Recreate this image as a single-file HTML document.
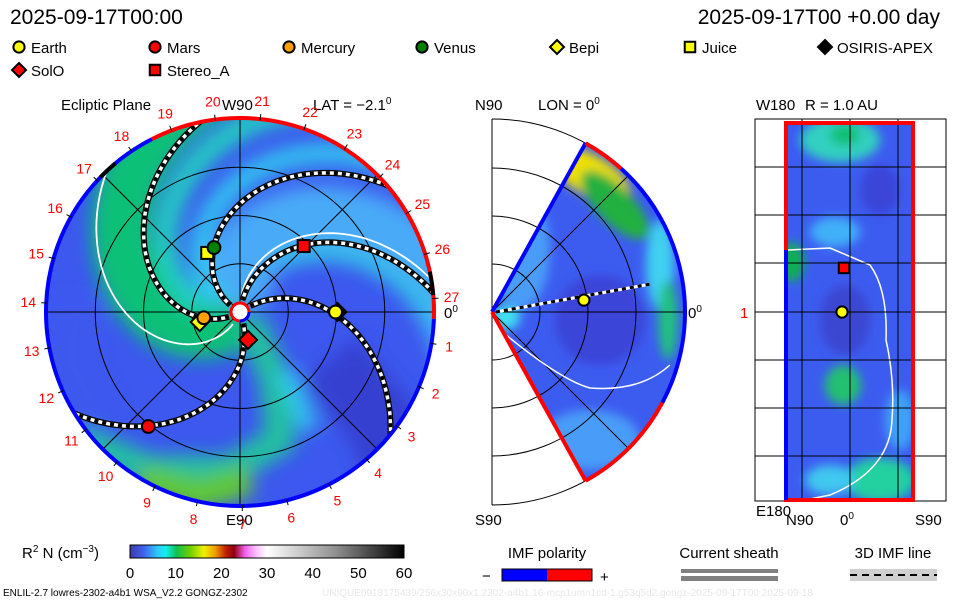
<!DOCTYPE html>
<html><head><meta charset="utf-8">
<style>
html,body{margin:0;padding:0;background:#fff;}
svg{display:block;font-family:"Liberation Sans",sans-serif;}
</style></head>
<body>
<svg id="c" width="960" height="600" viewBox="0 0 960 600" xmlns="http://www.w3.org/2000/svg">
<defs>
<filter id="bl" x="-20%" y="-20%" width="140%" height="140%"><feGaussianBlur stdDeviation="9"/></filter>
<filter id="bl2" x="-20%" y="-20%" width="140%" height="140%"><feGaussianBlur stdDeviation="5"/></filter>
<clipPath id="mainClip"><circle cx="240" cy="312" r="193"/></clipPath>
<clipPath id="midClip"><path id="wedgePath" d=""/></clipPath>
<clipPath id="rightClip"><rect x="786" y="122" width="127" height="379"/></clipPath>
<linearGradient id="cbar" x1="0" x2="1" y1="0" y2="0">
<stop offset="0" stop-color="#3c3ca8"/><stop offset="0.05" stop-color="#4060f0"/><stop offset="0.1" stop-color="#30c8f8"/>
<stop offset="0.13" stop-color="#10f0f0"/><stop offset="0.17" stop-color="#10c050"/><stop offset="0.22" stop-color="#70d000"/>
<stop offset="0.27" stop-color="#f0f000"/><stop offset="0.31" stop-color="#f0a000"/><stop offset="0.35" stop-color="#c02000"/>
<stop offset="0.38" stop-color="#900010"/><stop offset="0.42" stop-color="#f060f0"/><stop offset="0.46" stop-color="#ffc0ff"/>
<stop offset="0.5" stop-color="#ffffff"/><stop offset="0.75" stop-color="#909090"/><stop offset="1" stop-color="#000000"/>
</linearGradient>
</defs>

<text x="10" y="24" font-size="21">2025-09-17T00:00</text>
<text x="940" y="24" font-size="21" text-anchor="end">2025-09-17T00 +0.00 day</text>

<g id="legend" font-size="15"></g>

<text x="61" y="110" font-size="15">Ecliptic Plane</text>
<text x="222" y="110" font-size="15">W90</text>
<text x="313" y="110" font-size="15">LAT = −2.1<tspan dy="-6" font-size="10">0</tspan></text>
<text x="475" y="110" font-size="15">N90</text>
<text x="538" y="110" font-size="15">LON = 0<tspan dy="-6" font-size="10">0</tspan></text>
<text x="756" y="110" font-size="15">W180</text>
<text x="805" y="110" font-size="15">R = 1.0 AU</text>

<g id="main">
<g clip-path="url(#mainClip)">
<circle cx="240" cy="312" r="193" fill="#3c58ee"/>
<g id="mainBands" filter="url(#bl)"></g>
</g>
<g id="mainGrid" fill="none" stroke="#000" stroke-width="1"></g>
<g id="mainLines"></g>
<g id="mainRing"></g>
<g id="carr" font-size="14" fill="#f00"></g>
<text x="226" y="525" font-size="15">E90</text>
<text x="444" y="318" font-size="15">0<tspan dy="-6" font-size="10">0</tspan></text>
<g id="mainBodies"></g>
</g>

<g id="mid">
<g id="midFrame" fill="none" stroke="#000" stroke-width="1"></g>
<g clip-path="url(#midClip)">
<rect x="480" y="100" width="220" height="420" fill="#3c5cf0"/>
<g filter="url(#bl2)">
<ellipse cx="520" cy="250" rx="30" ry="60" fill="#4a9cf8"/>
<ellipse cx="590" cy="440" rx="50" ry="30" fill="#4a9cf8"/>
<ellipse cx="660" cy="265" rx="14" ry="45" fill="#40d0f0"/>
<ellipse cx="590" cy="175" rx="45" ry="20" fill="#f0e000" transform="rotate(30 590 175)"/>
<ellipse cx="615" cy="205" rx="45" ry="18" fill="#20b040" transform="rotate(45 615 205)"/>
<ellipse cx="668" cy="320" rx="10" ry="40" fill="#20c080"/>
<ellipse cx="505" cy="318" rx="15" ry="12" fill="#40e0f0"/>
<ellipse cx="600" cy="320" rx="45" ry="45" fill="#3a44d8"/>
</g>
</g>
<g id="midGrid" fill="none" stroke="#000" stroke-width="1"></g>
<g id="midLines"></g>
<g id="midEdge"></g>
<text x="475" y="525" font-size="15">S90</text>
<text x="688" y="318" font-size="15">0<tspan dy="-6" font-size="10">0</tspan></text>
<g id="midBodies"></g>
</g>

<g id="right">
<rect x="755" y="119" width="191" height="382" fill="none" stroke="#000"/>
<g clip-path="url(#rightClip)">
<rect x="786" y="122" width="127" height="379" fill="#3c5cf0"/>
<g filter="url(#bl2)">
<ellipse cx="840" cy="140" rx="40" ry="22" fill="#30d0c0"/>
<ellipse cx="845" cy="135" rx="15" ry="10" fill="#10c070"/>
<ellipse cx="792" cy="262" rx="12" ry="20" fill="#10b050"/>
<ellipse cx="835" cy="232" rx="25" ry="15" fill="#40b0f8"/>
<ellipse cx="843" cy="385" rx="18" ry="20" fill="#20c070"/>
<ellipse cx="880" cy="480" rx="35" ry="22" fill="#20d0a0"/>
<ellipse cx="830" cy="480" rx="25" ry="15" fill="#40c8f0"/>
<ellipse cx="880" cy="190" rx="20" ry="25" fill="#3a44d8"/>
<ellipse cx="845" cy="320" rx="25" ry="35" fill="#3a46d0"/>
<ellipse cx="900" cy="420" rx="15" ry="30" fill="#40a0f8"/>
</g>
<path d="M788,250 L830,248 L870,265 Q888,290 886,340 Q895,380 892,420 Q890,470 830,495 L800,501" fill="none" stroke="#fff" stroke-width="1.5"/>
</g>
<g id="rightGrid" stroke="#000" stroke-width="1"></g>
<rect x="786" y="123" width="127" height="377" fill="none" stroke="#f00" stroke-width="4"/>
<line x1="786" y1="250" x2="786" y2="500" stroke="#00f" stroke-width="4"/>
<text x="740" y="318" font-size="15" fill="#f00">1</text>
<text x="756" y="516" font-size="15">E180</text>
<text x="786" y="525" font-size="15">N90</text>
<text x="840" y="525" font-size="15">0<tspan dy="-6" font-size="10">0</tspan></text>
<text x="915" y="525" font-size="15">S90</text>
<g id="rightBodies"></g>
</g>

<text x="22" y="558" font-size="15">R<tspan dy="-6" font-size="10">2</tspan><tspan dy="6"> N (cm</tspan><tspan dy="-6" font-size="10">−3</tspan><tspan dy="6">)</tspan></text>
<rect x="130" y="545" width="274" height="13" fill="url(#cbar)" stroke="#000"/>
<g id="cticks" font-size="15" text-anchor="middle"></g>
<text x="547" y="558" font-size="15" text-anchor="middle">IMF polarity</text>
<text x="482" y="581" font-size="15">−</text>
<rect x="502" y="569" width="45" height="12" fill="#00f"/>
<rect x="547" y="569" width="45" height="12" fill="#f00"/>
<rect x="502" y="569" width="90" height="12" fill="none" stroke="#000"/>
<text x="600" y="582" font-size="15">+</text>
<text x="729" y="558" font-size="15" text-anchor="middle">Current sheath</text>
<rect x="681" y="569" width="97" height="4" fill="#808080"/>
<rect x="681" y="576" width="97" height="5" fill="#808080"/>
<text x="893" y="558" font-size="15" text-anchor="middle">3D IMF line</text>
<rect x="850" y="569" width="87" height="12" fill="#d0d0d0"/>
<line x1="850" y1="575" x2="937" y2="575" stroke="#000" stroke-width="2" stroke-dasharray="7 5"/>
<text x="3" y="596" font-size="10">ENLIL-2.7 lowres-2302-a4b1 WSA_V2.2 GONGZ-2302</text>
<text x="322" y="596" font-size="10" fill="#e8e8e8">UNIQUE0918175439/256x30x90x1.2302-a4b1.16-mcp1umn1cd-1.g53q5d2.gongz-2025-09-17T00    2025-09-18</text>
</svg>
<script>
// ---- data ----
const bodyNames = ["Earth","Mars","Mercury","Venus","Bepi","Juice","OSIRIS-APEX","SolO","Stereo_A"];
const bodyShapes = ["circle","circle","circle","circle","diamond","square","diamond","diamond","square"];
const bodyColors = ["#ffff00","#ff0000","#ffa000","#008000","#ffff00","#ffff00","#000000","#ff0000","#ff0000"];
const bodyRadiusAU = [0.99,1.52,0.38,0.72,0.43,0.70,1.01,0.30,0.95];
const bodyLonDeg = [0,-128.7,189,112,194,119,0,-74,46];
const drawOrder = [6,0,1,4,2,5,3,7,8];
const carrLabels = [27,1,2,3,4,5,6,7,8,9,10,11,12,13,14,15,16,17,18,19,20,21,22,23,24,25,26];
const cbTicks = [0,10,20,30,40,50,60];
const gridAU = [0.5,1,1.5,2];
const spiralStartDeg = [35,-69,152,210,83];
const spiralSpeed = [150,140,100,103,144];
const sheathStartDeg = [248,92];
const sheathSpeed = [97,135];
const midEarthAU = 0.96, midEarthLat = 7.4;
const rightEarth = [0,0], rightSta = [2,26];

const NS="http://www.w3.org/2000/svg";
const CX=240, CY=312, SC=96.5;
function mk(tag,attrs,parent){const el=document.createElementNS(NS,tag);for(const k in attrs)el.setAttribute(k,attrs[k]);parent.appendChild(el);return el;}
function px(rAU,deg){const a=deg*Math.PI/180;return [CX+rAU*SC*Math.cos(a),CY-rAU*SC*Math.sin(a)];}

function marker(parent,shape,color,x,y,s){
  let el;
  if(shape==="circle") el=mk("circle",{cx:x,cy:y,r:s*0.8,fill:color,stroke:"#000","stroke-width":2},parent);
  else if(shape==="square") el=mk("rect",{x:x-s*0.75,y:y-s*0.75,width:s*1.5,height:s*1.5,fill:color,stroke:"#000","stroke-width":2},parent);
  else el=mk("polygon",{points:`${x},${y-s} ${x+s},${y} ${x},${y+s} ${x-s},${y}`,fill:color,stroke:"#000","stroke-width":2},parent);
  return el;
}

const lg=document.getElementById("legend");
const lgX=[19,155,289,422,557,690,825,19,155], lgY=[48,48,48,48,48,48,48,71,71];
bodyNames.forEach((nm,i)=>{
  const m=marker(lg,bodyShapes[i],bodyColors[i],lgX[i],lgY[i]-1,7);
  
  
  const t=mk("text",{x:lgX[i]+12,y:lgY[i]+5},lg);t.textContent=nm;
  
  
});

const mb=document.getElementById("mainBands");
function spiralPts(t0,k,r0,r1,off){let pts=[];for(let r=r0;r<=r1;r+=4){const d=t0-(r/k)*180/Math.PI+(off||0);const a=d*Math.PI/180;pts.push([CX+r*Math.cos(a),CY-r*Math.sin(a)]);}return pts;}
function pl(pts){return "M"+pts.map(q=>q[0].toFixed(1)+","+q[1].toFixed(1)).join(" L");}
mk("path",{d:pl(spiralPts(112,110,0,260)),stroke:"#48aaf8","stroke-width":70,fill:"none"},mb);
mk("path",{d:pl(spiralPts(228,100,0,260)),stroke:"#10c078","stroke-width":60,fill:"none"},mb);
mk("path",{d:pl(spiralPts(195,100,40,260)),stroke:"#20d0c0","stroke-width":22,fill:"none"},mb);
mk("path",{d:pl(spiralPts(165,100,20,260)),stroke:"#30c8f0","stroke-width":20,fill:"none"},mb);
mk("path",{d:"M250,320 L275,380 L280,440 L230,470 L150,470 L80,440",stroke:"#20c0a0","stroke-width":30,fill:"none"},mb);
mk("path",{d:"M140,480 L200,495 L250,480",stroke:"#60c830","stroke-width":30,fill:"none"},mb);
mk("path",{d:"M330,360 L380,420 L400,470",stroke:"#3440d0","stroke-width":70,fill:"none"},mb);
mk("path",{d:"M285,370 L310,430",stroke:"#30c8f0","stroke-width":18,fill:"none"},mb);
mk("path",{d:"M80,300 L70,360 L100,420",stroke:"#3c58ee","stroke-width":40,fill:"none"},mb);
mk("path",{d:pl(spiralPts(85,140,60,260,-8)),stroke:"#30c0e8","stroke-width":16,fill:"none"},mb);

const mg=document.getElementById("mainGrid");
gridAU.slice(0,3).forEach(r=>mk("circle",{cx:CX,cy:CY,r:r*SC},mg));
mk("line",{x1:CX-193,y1:CY,x2:CX+193,y2:CY},mg);
mk("line",{x1:CX,y1:CY-193,x2:CX,y2:CY+193},mg);
const dd=193*Math.SQRT1_2;
mk("line",{x1:CX-dd,y1:CY-dd,x2:CX+dd,y2:CY+dd},mg);
mk("line",{x1:CX-dd,y1:CY+dd,x2:CX+dd,y2:CY-dd},mg);

const ml=document.getElementById("mainLines");
const clipG=mk("g",{"clip-path":"url(#mainClip)"},ml);
sheathStartDeg.forEach((t,i)=>{
  const pa=mk("path",{d:pl(spiralPts(t,sheathSpeed[i],14,200)),stroke:"#fff","stroke-width":1.8,fill:"none"},clipG);
  
  
});
spiralStartDeg.forEach((t,i)=>{
  const d=pl(spiralPts(t,spiralSpeed[i],12,200));
  mk("path",{d:d,stroke:"#000","stroke-width":6,fill:"none"},clipG);
  mk("path",{d:d,stroke:"#fff","stroke-width":3.5,fill:"none"},clipG);
  const pa=mk("path",{d:d,stroke:"#000","stroke-width":3.5,fill:"none","stroke-dasharray":"4 4"},clipG);
  
  
});
mk("circle",{cx:CX,cy:CY,r:9,fill:"#fff",stroke:"#f00","stroke-width":3},ml);
mk("path",{d:`M${CX},${CY+9} A9,9 0 0,0 ${CX+9},${CY}`,fill:"none",stroke:"#00f","stroke-width":3},ml);

const mr=document.getElementById("mainRing");
function arc(r,a0,a1){const p0=px(r/SC,a0),p1=px(r/SC,a1);const large=Math.abs(a1-a0)>180?1:0;return `M${p0[0]},${p0[1]} A${r},${r} 0 ${large},1 ${p1[0]},${p1[1]}`;}
let ringEl=mk("path",{d:arc(194,117,-2),fill:"none",stroke:"#f00","stroke-width":4},mr);


ringEl=mk("path",{d:arc(194,-2,-243),fill:"none",stroke:"#00f","stroke-width":4},mr);


mk("path",{d:arc(194,136,130),fill:"none",stroke:"#000","stroke-width":4},mr);
mk("path",{d:arc(194,12,5),fill:"none",stroke:"#000","stroke-width":4},mr);

const cg=document.getElementById("carr");
carrLabels.forEach((n,i)=>{
  const deg=4-i*360/27;const q=px(212/SC,deg);
  const t=mk("text",{x:q[0],y:q[1]+5,"text-anchor":"middle"},cg);t.textContent=n;
  
  
  const q0=px(193/SC,deg),q1=px(199/SC,deg);
  mk("line",{x1:q0[0],y1:q0[1],x2:q1[0],y2:q1[1],stroke:"#000"},cg);
});

const mbd=document.getElementById("mainBodies");
drawOrder.forEach(i=>{
  const q=px(bodyRadiusAU[i],bodyLonDeg[i]);
  const m=marker(mbd,bodyShapes[i],bodyColors[i],q[0],q[1],bodyShapes[i]==="diamond"?9:8);
  
  
});

// ---- meridional panel ----
const MX=492,MY=312,MR=193;
function mp(r,deg){const a=deg*Math.PI/180;return [MX+r*Math.cos(a),MY-r*Math.sin(a)];}
const w0=mp(MR,61),w1=mp(MR,-61);
document.getElementById("wedgePath").setAttribute("d",`M${MX},${MY} L${w0[0]},${w0[1]} A${MR},${MR} 0 0,1 ${w1[0]},${w1[1]} Z`);
const mf=document.getElementById("midFrame");
const topPt=mp(MR,90),botPt=mp(MR,-90);
mk("path",{d:`M${topPt[0]},${topPt[1]} A${MR},${MR} 0 0,1 ${botPt[0]},${botPt[1]}`},mf);
mk("line",{x1:MX,y1:MY-MR,x2:MX,y2:MY+MR},mf);
const mgd=document.getElementById("midGrid");
[48,96,144].forEach(r=>{const a=mp(r,90),b=mp(r,-90);mk("path",{d:`M${a[0]},${a[1]} A${r},${r} 0 0,1 ${b[0]},${b[1]}`},mgd);});
mk("line",{x1:MX,y1:MY,x2:MX+MR,y2:MY},mgd);
const d1=mp(MR,45),d2=mp(MR,-45);
mk("line",{x1:MX,y1:MY,x2:d1[0],y2:d1[1]},mgd);
mk("line",{x1:MX,y1:MY,x2:d2[0],y2:d2[1]},mgd);
const mlines=document.getElementById("midLines");
mk("path",{d:`M500,330 Q560,380 590,388 Q640,392 670,365`,fill:"none",stroke:"#fff","stroke-width":1.5},mlines);
const ep=mp(midEarthAU*SC,midEarthLat);
const tip=mp(160,10);
mk("line",{x1:MX+4,y1:MY,x2:tip[0],y2:tip[1],stroke:"#fff","stroke-width":3},mlines);
mk("line",{x1:MX+4,y1:MY,x2:tip[0],y2:tip[1],stroke:"#000","stroke-width":3,"stroke-dasharray":"4 4"},mlines);
const me=document.getElementById("midEdge");
mk("line",{x1:MX,y1:MY,x2:w0[0],y2:w0[1],stroke:"#00f","stroke-width":4},me);
mk("line",{x1:MX,y1:MY,x2:w1[0],y2:w1[1],stroke:"#f00","stroke-width":4},me);
const r75=mp(MR,48),rm=mp(MR,-28);
mk("path",{d:`M${w0[0]},${w0[1]} A${MR},${MR} 0 0,1 ${r75[0]},${r75[1]}`,fill:"none",stroke:"#f00","stroke-width":4},me);
mk("path",{d:`M${r75[0]},${r75[1]} A${MR},${MR} 0 0,1 ${rm[0]},${rm[1]}`,fill:"none",stroke:"#00f","stroke-width":4},me);
mk("path",{d:`M${rm[0]},${rm[1]} A${MR},${MR} 0 0,1 ${w1[0]},${w1[1]}`,fill:"none",stroke:"#f00","stroke-width":4},me);
const m2=marker(document.getElementById("midBodies"),"circle","#ffff00",ep[0],ep[1],7);



// ---- right panel ----
const rg=document.getElementById("rightGrid");
[802,850,898].forEach(x=>mk("line",{x1:x,y1:119,x2:x,y2:501},rg));
[167,215,263,312,360,408,456].forEach(y=>mk("line",{x1:755,y1:y,x2:946,y2:y},rg));
function rp(lat,lon){return [850-lat*0.55*48/26.5,312-lon*48/26.5];}
const rb=document.getElementById("rightBodies");
let rq=rp(rightEarth[0],rightEarth[1]);
let m3=marker(rb,"circle","#ffff00",rq[0]-8,rq[1],7);


rq=rp(rightSta[0],rightSta[1]);
m3=marker(rb,"square","#ff0000",rq[0]-4,rq[1]+3,7);



const ct=document.getElementById("cticks");
cbTicks.forEach(v=>{
  const x=130+v/60*274;
  const t=mk("text",{x:x,y:578},ct);t.textContent=v;
  
  
});
</script>
</body></html>
